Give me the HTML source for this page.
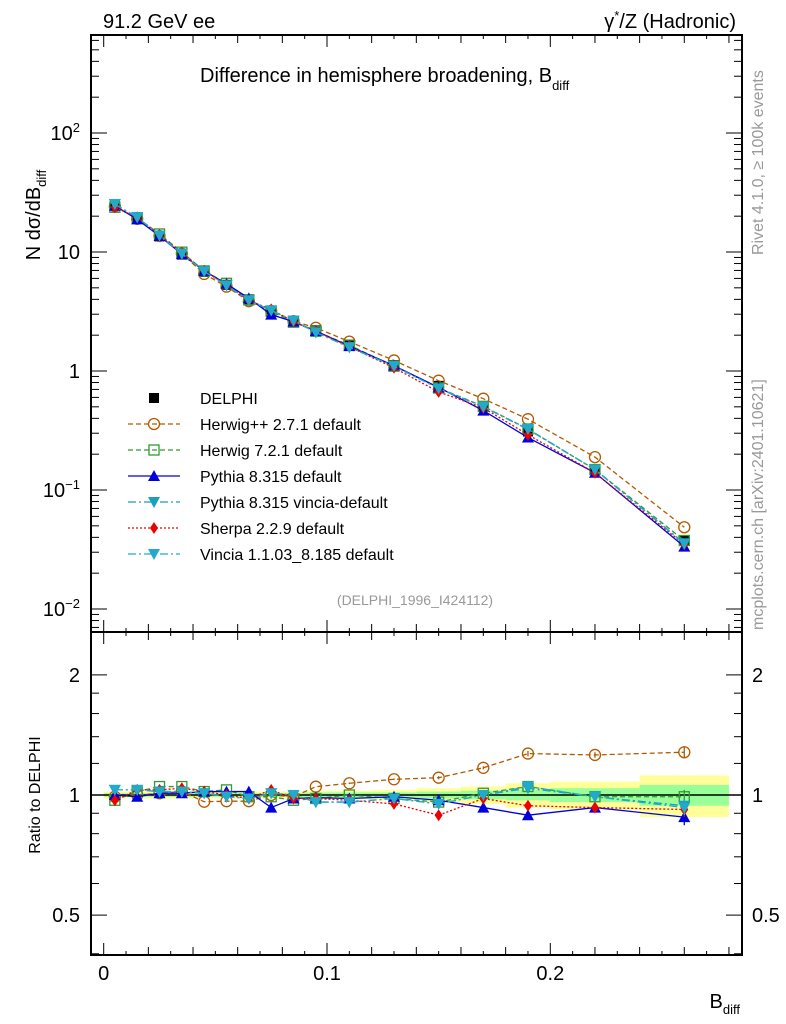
<!DOCTYPE html>
<html><head><meta charset="utf-8">
<style>
html,body{margin:0;padding:0;background:#fff;}
svg{display:block;font-family:"Liberation Sans",sans-serif;}
</style></head>
<body>
<svg id="c" width="786" height="1024" viewBox="0 0 786 1024"></svg>
<script>
const xCenters=[0.005,0.015,0.025,0.035,0.045,0.055,0.065,0.075,0.085,0.095,0.11,0.13,0.15,0.17,0.19,0.22,0.26];
const xEdges=[0,0.01,0.02,0.03,0.04,0.05,0.06,0.07,0.08,0.09,0.1,0.12,0.14,0.16,0.18,0.2,0.24,0.28];
const dataVals=[24.5,19,13.5,9.5,6.8,5.3,4.0,3.2,2.65,2.2,1.65,1.12,0.75,0.5,0.31,0.15,0.038];
const bandTot=[0.02,0.02,0.02,0.02,0.02,0.02,0.02,0.02,0.02,0.025,0.025,0.03,0.04,0.05,0.07,0.08,0.12];
const bandStat=[0.01,0.01,0.01,0.01,0.01,0.01,0.01,0.01,0.01,0.015,0.015,0.015,0.02,0.025,0.03,0.04,0.06];
const mcErr=[0,0,0,0,0,0,0,0,0,0,0.005,0.005,0.01,0.01,0.02,0.02,0.04];
const rHerwigpp=[0.99,1.0,1.01,1.02,0.962,0.965,0.965,1.0,0.99,1.049,1.07,1.095,1.105,1.17,1.27,1.26,1.28];
const rHerwig7=[0.97,1.02,1.05,1.05,1.02,1.03,0.99,0.99,0.97,0.98,1.0,0.98,0.96,1.01,1.05,0.99,0.99];
const rPythia=[1.0,0.99,1.01,1.01,1.02,1.02,1.02,0.93,0.98,0.985,0.98,0.99,0.97,0.93,0.89,0.93,0.88];
const rPyVincia=[1.03,1.03,1.02,1.02,1.01,0.99,0.98,1.01,1.0,0.96,0.96,0.98,0.95,1.0,1.04,0.99,0.94];
const rSherpa=[0.97,1.03,1.03,1.04,1.02,1.0,0.98,1.03,0.98,0.98,0.97,0.95,0.89,0.98,0.94,0.93,0.92];
const rVincia=[1.03,1.03,1.02,1.02,1.01,0.99,0.98,1.01,1.0,0.96,0.96,0.98,0.95,1.0,1.05,0.99,0.93];
const yTicksMain=[{v:0.01,l:"10<tspan dy='-8' font-size='13'>−2</tspan>"},{v:0.1,l:"10<tspan dy='-8' font-size='13'>−1</tspan>"},{v:1,l:"1"},{v:10,l:"10"},{v:100,l:"10<tspan dy='-8' font-size='13'>2</tspan>"}];
const yTicksRatio=[0.5,1,2];
const xTicks=[0,0.1,0.2];

const S=document.getElementById('c');const NS='http://www.w3.org/2000/svg';
function el(t,a,p){const e=document.createElementNS(NS,t);for(const k in a)e.setAttribute(k,a[k]);(p||S).appendChild(e);return e;}
const L=91,R=742,T=35,MB=632,RB=955;
const X=v=>103.7+v*2233;
const YM=v=>371-119*Math.log10(v);
const YR=v=>795-399*Math.log10(v);

const gb=el('g',{});
xCenters.forEach((c,i)=>{
 const x0=X(xEdges[i]),x1=X(xEdges[i+1]);
 let r=el('rect',{x:x0,y:YR(1+bandTot[i]),width:x1-x0,height:YR(1-bandTot[i])-YR(1+bandTot[i]),fill:'#ffff99'},gb);
 
 r=el('rect',{x:x0,y:YR(1+bandStat[i]),width:x1-x0,height:YR(1-bandStat[i])-YR(1+bandStat[i]),fill:'#99ff99'},gb);
 
});
let ln=el('line',{x1:L,x2:R,y1:YR(1),y2:YR(1),stroke:'#000','stroke-width':1.5});


let f=el('rect',{x:L,y:T,width:R-L,height:MB-T,fill:'none',stroke:'#000','stroke-width':2});

f=el('rect',{x:L,y:MB,width:R-L,height:RB-MB,fill:'none',stroke:'#000','stroke-width':2});


for(let k=0;k<=28;k++){const v=k/100,x=X(v);const big=k%10==0,len=big?12:(k%2==0?8:4);
 [[MB,-1],[RB,-1],[T,1],[MB,1]].forEach(([y,d])=>el('line',{x1:x,x2:x,y1:y,y2:y+d*len,stroke:'#000','stroke-width':1}));}
xTicks.forEach(v=>{const t=el('text',{x:X(v),y:980,'font-size':20,'text-anchor':'middle'});t.textContent=String(v);
 });
for(let e=-3;e<=2;e++)for(let m=1;m<10;m++){const v=m*Math.pow(10,e),y=YM(v);if(y<T||y>MB)continue;const len=m==1?16:8;
 el('line',{x1:L,x2:L+len,y1:y,y2:y,stroke:'#000'});el('line',{x1:R,x2:R-len,y1:y,y2:y,stroke:'#000'});}
yTicksMain.forEach(o=>{const t=el('text',{x:80,y:YM(o.v)+7,'font-size':20,'text-anchor':'end'});t.innerHTML=o.l;
 });
[0.4,0.5,0.6,0.7,0.8,0.9,1,2,3].forEach(v=>{const y=YR(v);if(y<MB||y>RB)return;const len=[0.5,1,2].includes(v)?16:8;
 el('line',{x1:L,x2:L+len,y1:y,y2:y,stroke:'#000'});el('line',{x1:R,x2:R-len,y1:y,y2:y,stroke:'#000'});});
[1.2,1.4,1.6,1.8].forEach(v=>{const y=YR(v);el('line',{x1:L,x2:L+8,y1:y,y2:y,stroke:'#000'});el('line',{x1:R,x2:R-8,y1:y,y2:y,stroke:'#000'});});
yTicksRatio.forEach(v=>{[[80,'end'],[752,'start']].forEach(([x,a])=>{const t=el('text',{x:x,y:YR(v)+7,'font-size':20,'text-anchor':a});t.textContent=String(v);
 });});

function marker(g,type,x,y,col){
 const s=5;
 if(type=='circle')return el('circle',{cx:x,cy:y,r:5.5,fill:'none',stroke:col,'stroke-width':1.3},g);
 if(type=='osq')return el('rect',{x:x-s,y:y-s,width:2*s,height:2*s,fill:'none',stroke:col,'stroke-width':1.3},g);
 if(type=='sq')return el('rect',{x:x-s,y:y-s,width:2*s,height:2*s,fill:col},g);
 if(type=='up')return el('polygon',{points:`${x},${y-6} ${x-6},${y+5} ${x+6},${y+5}`,fill:col},g);
 if(type=='down')return el('polygon',{points:`${x},${y+6} ${x-6},${y-5} ${x+6},${y-5}`,fill:col},g);
 if(type=='diam')return el('polygon',{points:`${x},${y-6} ${x-4},${y} ${x},${y+6} ${x+4},${y}`,fill:col},g);
}
const gd=el('g',{});
xCenters.forEach((c,i)=>{const m=marker(gd,'sq',X(c),YM(dataVals[i]),'#000');});

const series=[
 {n:'herwigpp',r:rHerwigpp,c:'#b35900',m:'circle',d:'5,3',lab:'Herwig++ 2.7.1 default'},
 {n:'herwig7',r:rHerwig7,c:'#339933',m:'osq',d:'5,3',lab:'Herwig 7.2.1 default'},
 {n:'pythia',r:rPythia,c:'#0000dd',m:'up',d:'',lab:'Pythia 8.315 default'},
 {n:'pythia-vincia',r:rPyVincia,c:'#1a9fbf',m:'down',d:'8,3,2,3',lab:'Pythia 8.315 vincia-default'},
 {n:'sherpa',r:rSherpa,c:'#ee0000',m:'diam',d:'2,2',lab:'Sherpa 2.2.9 default'},
 {n:'vincia',r:rVincia,c:'#22aacc',m:'down',d:'8,3,2,3',lab:'Vincia 1.1.03_8.185 default'}];
series.forEach(s=>{
 const g=el('g',{});
 const pm=xCenters.map((c,i)=>X(c)+','+YM(dataVals[i]*s.r[i])).join(' ');
 el('polyline',{points:pm,fill:'none',stroke:s.c,'stroke-width':1.3,'stroke-dasharray':s.d},g);
 const pr=xCenters.map((c,i)=>X(c)+','+YR(s.r[i])).join(' ');
 el('polyline',{points:pr,fill:'none',stroke:s.c,'stroke-width':1.3,'stroke-dasharray':s.d},g);
 xCenters.forEach((c,i)=>{
  if(mcErr[i]>0){const eb=el('line',{x1:X(c),x2:X(c),y1:YR(s.r[i]+mcErr[i]),y2:YR(s.r[i]-mcErr[i]),stroke:s.c,'stroke-width':1.3},g);
   }
  let m=marker(g,s.m,X(c),YM(dataVals[i]*s.r[i]),s.c);
  m=marker(g,s.m,X(c),YR(s.r[i]),s.c);});
});

const lg=el('g',{});
let ly=398;
let e1=el('g',{},lg);
marker(e1,'sq',154,ly,'#000');let t=el('text',{x:200,y:ly+6,'font-size':16},e1);t.textContent='DELPHI';
series.forEach((s,k)=>{const y=ly+26*(k+1);const e=el('g',{},lg);
 el('line',{x1:128,x2:180,y1:y,y2:y,stroke:s.c,'stroke-width':1.3,'stroke-dasharray':s.d},e);
 marker(e,s.m,154,y,s.c);const tt=el('text',{x:200,y:y+6,'font-size':16},e);tt.textContent=s.lab;});

function txt(x,y,s,h,attrs,name){const t=el('text',Object.assign({x:x,y:y,'font-size':s},attrs||{}));t.innerHTML=h;return t;}
txt(103,28,20,'91.2 GeV ee',{},'energy-label');
txt(736,28,20,'γ<tspan dy="-8" font-size="13">*</tspan><tspan dy="8">/Z (Hadronic)</tspan>',{'text-anchor':'end'},'process-label');
txt(200,82,20,'Difference in hemisphere broadening, B<tspan dy="8" font-size="13">diff</tspan>',{},'plot-title');
txt(415,605,14,'(DELPHI_1996_I424112)',{fill:'#999','text-anchor':'middle'},'analysis-id');
txt(0,0,20,'N  dσ/dB<tspan dy="6" font-size="13">diff</tspan>',{transform:'translate(40,215) rotate(-90)','text-anchor':'middle'},'y-axis-title');
txt(0,0,16,'Ratio to DELPHI',{transform:'translate(40,795) rotate(-90)','text-anchor':'middle'},'ratio-axis-title');
txt(740,1008,20,'B<tspan dy="6" font-size="13">diff</tspan>',{'text-anchor':'end'},'x-axis-title');
txt(0,0,16,'Rivet 4.1.0, ≥ 100k events',{transform:'translate(763,255) rotate(-90)',fill:'#999'},'rivet-label');
txt(0,0,16,'mcplots.cern.ch [arXiv:2401.10621]',{transform:'translate(763,630) rotate(-90)',fill:'#999'},'mcplots-label');
</script>
</body></html>
